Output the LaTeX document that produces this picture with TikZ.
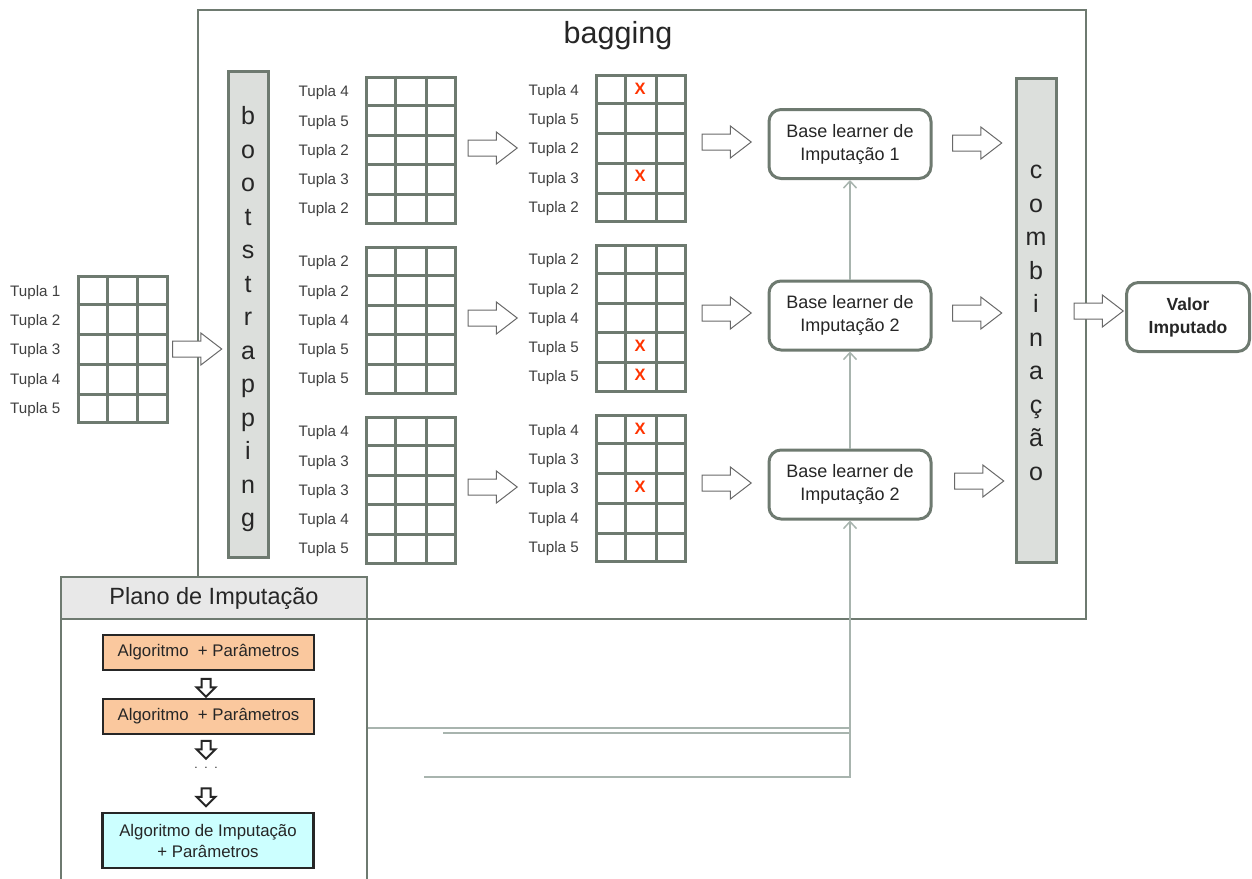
\documentclass[tikz,border=0pt]{standalone}
\usepackage{fontspec}
\setmainfont{Liberation Sans}
\usetikzlibrary{shapes.arrows,arrows.meta,calc}

\definecolor{gridc}{RGB}{110,122,112}
\definecolor{barfill}{RGB}{220,223,220}
\definecolor{linkc}{RGB}{168,180,174}
\definecolor{txt}{RGB}{64,64,64}
\definecolor{dark}{RGB}{38,38,38}
\definecolor{xred}{RGB}{255,51,0}
\definecolor{algo}{RGB}{250,200,158}
\definecolor{algofinal}{RGB}{204,255,255}
\definecolor{bandc}{RGB}{232,232,232}
\definecolor{arrowc}{RGB}{105,105,105}

\tikzset{
  tabela/.style={draw=gridc, line width=3pt, minimum width=89, minimum height=146, inner sep=0},
  gridline/.style={draw=gridc, line width=3pt},
  rotulo/.style={text=txt, font=\fontsize{15.2}{17}\selectfont, anchor=base west, inner sep=0},
  xmark/.style={text=xred, font=\bfseries\fontsize{16.5}{18}\selectfont, inner sep=0},
  seta/.style={single arrow, draw=arrowc, line width=1pt, fill=white, minimum height=49,
    text height=15pt, text depth=0pt, text width=0pt, single arrow head extend=8,
    single arrow tip angle=75, inner sep=0},
  setabaixo/.style={single arrow, rotate=-90, draw=dark, line width=2pt, fill=white, minimum height=18,
    text height=7pt, text depth=0pt, text width=0pt, single arrow head extend=5,
    single arrow tip angle=90, inner sep=0},
  learner/.style={draw=gridc, line width=3pt, rounded corners=12, fill=white, minimum width=162,
    minimum height=69, align=center, text=dark, font=\fontsize{18}{23}\selectfont, inner sep=0},
  barra/.style={draw=gridc, line width=3pt, fill=barfill, minimum width=40, inner sep=0},
  letra/.style={text=dark, font=\fontsize{25}{25}\selectfont, anchor=base, inner sep=0},
  link/.style={draw=linkc, line width=1.5pt},
  passo/.style={draw=dark, line width=2.5pt, minimum width=211, align=center, text=dark,
    font=\fontsize{16.8}{21}\selectfont, inner sep=0},
}

% table with five rows, three columns and its row labels
\newcommand\tabela[3]{%
  \node[tabela] (#1) at (#2) {};
  \foreach \k in {1,...,4}
    \draw[gridline] ($(#1.north west)!\k/5!(#1.south west)$) -- ($(#1.north east)!\k/5!(#1.south east)$);
  \foreach \k in {1,2}
    \draw[gridline] ($(#1.north west)!\k/3!(#1.north east)$) -- ($(#1.south west)!\k/3!(#1.south east)$);
  \foreach \lab [count=\i] in {#3}
    \node[rotulo] at ($(#1.north west)+(-66.5,{(\i-0.5)*29.2+6.8})$) {Tupla\ \lab};
}
% missing value mark in the middle column of a given row
\newcommand\falta[2]{\node[xmark] at ($(#1.north west)+(45,{(#2-0.5)*29.2})$) {X};}

\begin{document}
\begin{tikzpicture}[x=1pt, y=-1pt]
\useasboundingbox (0,0) rectangle (1252,878);
\clip (0,0) rectangle (1252,878);

% bagging frame
\node[draw=gridc, line width=2.5pt, minimum width=888, minimum height=609, inner sep=0] (bag) at (642,314.5) {};
\node[font=\fontsize{30.5}{31}\selectfont, text=dark] (bagtitle) at (618,36) {bagging};

% input table
\tabela{t0}{122.5,349.5}{1,2,3,4,5}

% bootstrapping bar
\node[barra, minimum height=486] (boot) at (248,314) {};
\foreach \l [count=\i] in {b,o,o,t,s,t,r,a,p,p,i,n,g}
  \node[letra] at ($(boot.north)+(0,{55+(\i-1)*33.5})$) {\l};

% bootstrap samples
\tabela{tA1}{411,150}{4,5,2,3,2}
\tabela{tA2}{411,320}{2,2,4,5,5}
\tabela{tA3}{411,490}{4,3,3,4,5}

% samples with missing values
\tabela{tB1}{641,148.5}{4,5,2,3,2}
\tabela{tB2}{641,318}{2,2,4,5,5}
\tabela{tB3}{641,488.5}{4,3,3,4,5}
\falta{tB1}{1}\falta{tB1}{4}
\falta{tB2}{4}\falta{tB2}{5}
\falta{tB3}{1}\falta{tB3}{3}

% base learners
\node[learner] (bl1) at (850,144) {Base learner de\\Imputação 1};
\node[learner] (bl2) at (850,315.5) {Base learner de\\Imputação 2};
\node[learner] (bl3) at (850,484.5) {Base learner de\\Imputação 2};

% combination bar
\node[barra, minimum height=484] (comb) at (1036,320) {};
\foreach \l [count=\i] in {c,o,m,b,i,n,a,ç,ã,o}
  \node[letra] at ($(comb.north)+(0,{102+(\i-1)*33.5})$) {\l};

% result
\node[learner, minimum width=123, font=\bfseries\fontsize{17.5}{23}\selectfont] (valor) at (1188,317) {Valor\\Imputado};

% block arrows (anchor sits slightly behind the middle of the shape)
\node[seta] (a0) at (192,349) {};
\node[seta] (aA1) at (487.5,148) {};
\node[seta] (aA2) at (487.5,318) {};
\node[seta] (aA3) at (487.5,487) {};
\node[seta] (aB1) at (721.5,142) {};
\node[seta] (aB2) at (721.5,313) {};
\node[seta] (aB3) at (721.5,483) {};
\node[seta] (aC1) at (972,143) {};
\node[seta] (aC2) at (972,313) {};
\node[seta] (aC3) at (974,481) {};
\node[seta] (aD) at (1093.5,311) {};

% imputation plan links
\coordinate (p1) at (367,728);
\coordinate (p2) at (443,733);
\coordinate (p3) at (424,777);
\draw[link] (p1) -- (p1 -| bl3.south);
\draw[link] (p2) -- (p2 -| bl3.south);
\draw[link, -{Straight Barb[length=7pt,width=13pt]}] (p3) -| (bl3.south);
\draw[link, -{Straight Barb[length=7pt,width=13pt]}] (bl3.north) -- (bl2.south);
\draw[link, -{Straight Barb[length=7pt,width=13pt]}] (bl2.north) -- (bl1.south);

% imputation plan panel
\node[draw=gridc, line width=2.5pt, fill=white, minimum width=306, minimum height=320, inner sep=0] (plano) at (214,737) {};
\node[draw=gridc, line width=2.5pt, fill=bandc, minimum width=306, minimum height=42, inner sep=0,
  font=\fontsize{23.5}{25}\selectfont, text=dark] (planotitle) at (214,598) {Plano de Imputação};
\node[passo, fill=algo, minimum height=35] (s1) at (208.5,652.5) {Algoritmo\ \ + Parâmetros};
\node[passo, fill=algo, minimum height=35] (s2) at (208.5,716.5) {Algoritmo\ \ + Parâmetros};
\node[passo, fill=algofinal, minimum height=55] (s3) at (208,840.5) {Algoritmo de Imputação\\+ Parâmetros};
\node[setabaixo] (d1) at (206,685.5) {};
\node[setabaixo] (d2) at (206,747.5) {};
\node[setabaixo] (d3) at (206,795) {};
\node[text=dark, font=\fontsize{12}{12}\selectfont] (dots) at (206,768) {.\ \ .\ \ .};
\end{tikzpicture}
\end{document}
